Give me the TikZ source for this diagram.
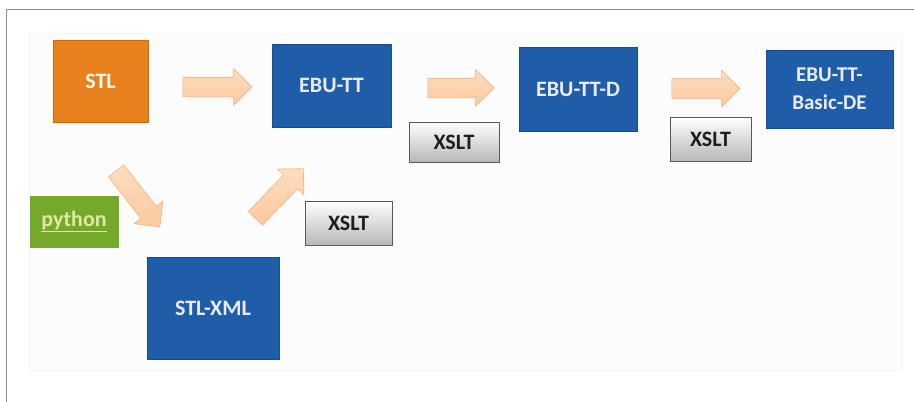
\documentclass[tikz,border=0pt]{standalone}
\usepackage{fontspec}
\setmainfont{Carlito}
\usetikzlibrary{shapes.arrows}
\definecolor{ebublue}{HTML}{1F5DA9}
\definecolor{ebuedge}{HTML}{184C8C}
\definecolor{stlorange}{HTML}{E8801E}
\definecolor{stledge}{HTML}{C96A12}
\definecolor{pygreen}{HTML}{76A82A}
\definecolor{pytext}{HTML}{DDEBA2}
\definecolor{arrowfill}{HTML}{FBC9A0}
\definecolor{arrowtop}{HTML}{FDDDC0}
\definecolor{arrowedge}{HTML}{F2B27E}
\definecolor{framegray}{HTML}{8A8A8A}
\definecolor{panel}{HTML}{FCFCFC}
\begin{document}
\begin{tikzpicture}[x=1pt,y=-1pt,
  box/.style={draw, rectangle, inner sep=0pt, line width=0.8pt, align=center,
    font=\bfseries\fontsize{22}{27}\selectfont},
  bluebox/.style={box, fill=ebublue, draw=ebuedge, text=white!92!blue},
  xsltbox/.style={box, top color=white, bottom color=black!28, draw=black!65,
    text=black!88, minimum height=42pt},
  fatarrow/.style={single arrow, draw=arrowedge, top color=arrowtop, bottom color=arrowfill,
    line width=0.6pt, inner xsep=0pt, inner ysep=9.5pt, single arrow head extend=8.5pt,
    single arrow head indent=0pt}
]
\useasboundingbox (0,0) rectangle (914,402);
\fill[white] (0,0) rectangle (914,402);
% frame and panel
\draw[framegray, line width=1.2pt] (6.5,402) -- (6.5,9.5) -- (914,9.5);
\filldraw[fill=panel, draw=black!4] (29,33) rectangle (902,370);

% boxes
\node[box, fill=stlorange, draw=stledge, text=white!95!orange,
  minimum width=95pt, minimum height=82pt] (stl) at (100.5,81) {STL};
\node[bluebox, minimum width=119pt, minimum height=83pt] (ebutt) at (331.5,85.5) {EBU-TT};
\node[bluebox, minimum width=118pt, minimum height=84pt] (ebuttd) at (578,89) {EBU-TT-D};
\node[bluebox, minimum width=127pt, minimum height=78pt,
  font=\bfseries\fontsize{21}{28}\selectfont] (basic) at (829.5,89) {EBU-TT-\\Basic-DE};
\node[bluebox, minimum width=132pt, minimum height=102pt] (stlxml) at (213,308) {STL-XML};
\node[box, fill=pygreen, draw=pygreen, text=pytext,
  minimum width=88pt, minimum height=51pt] (python) at (74,221.5) {\underline{python}};

\node[xsltbox, minimum width=90pt, minimum height=40pt] (x1) at (454,142) {XSLT};
\node[xsltbox, minimum width=81pt, minimum height=44pt] (x2) at (710.5,139) {XSLT};
\node[xsltbox, minimum width=87pt, minimum height=44pt] (x3) at (348.5,223) {XSLT};

% block arrows
\node[fatarrow, minimum height=69pt] (a1) at (212.5,87) {};
\node[fatarrow, minimum height=66pt] (a2) at (456,88) {};
\node[fatarrow, minimum height=68pt] (a3) at (701,88.5) {};
\node[fatarrow, minimum height=71pt, rotate=-52] (a4) at (135,195) {};
\node[fatarrow, minimum height=69pt, rotate=46] (a5) at (276,197) {};
\end{tikzpicture}
\end{document}
